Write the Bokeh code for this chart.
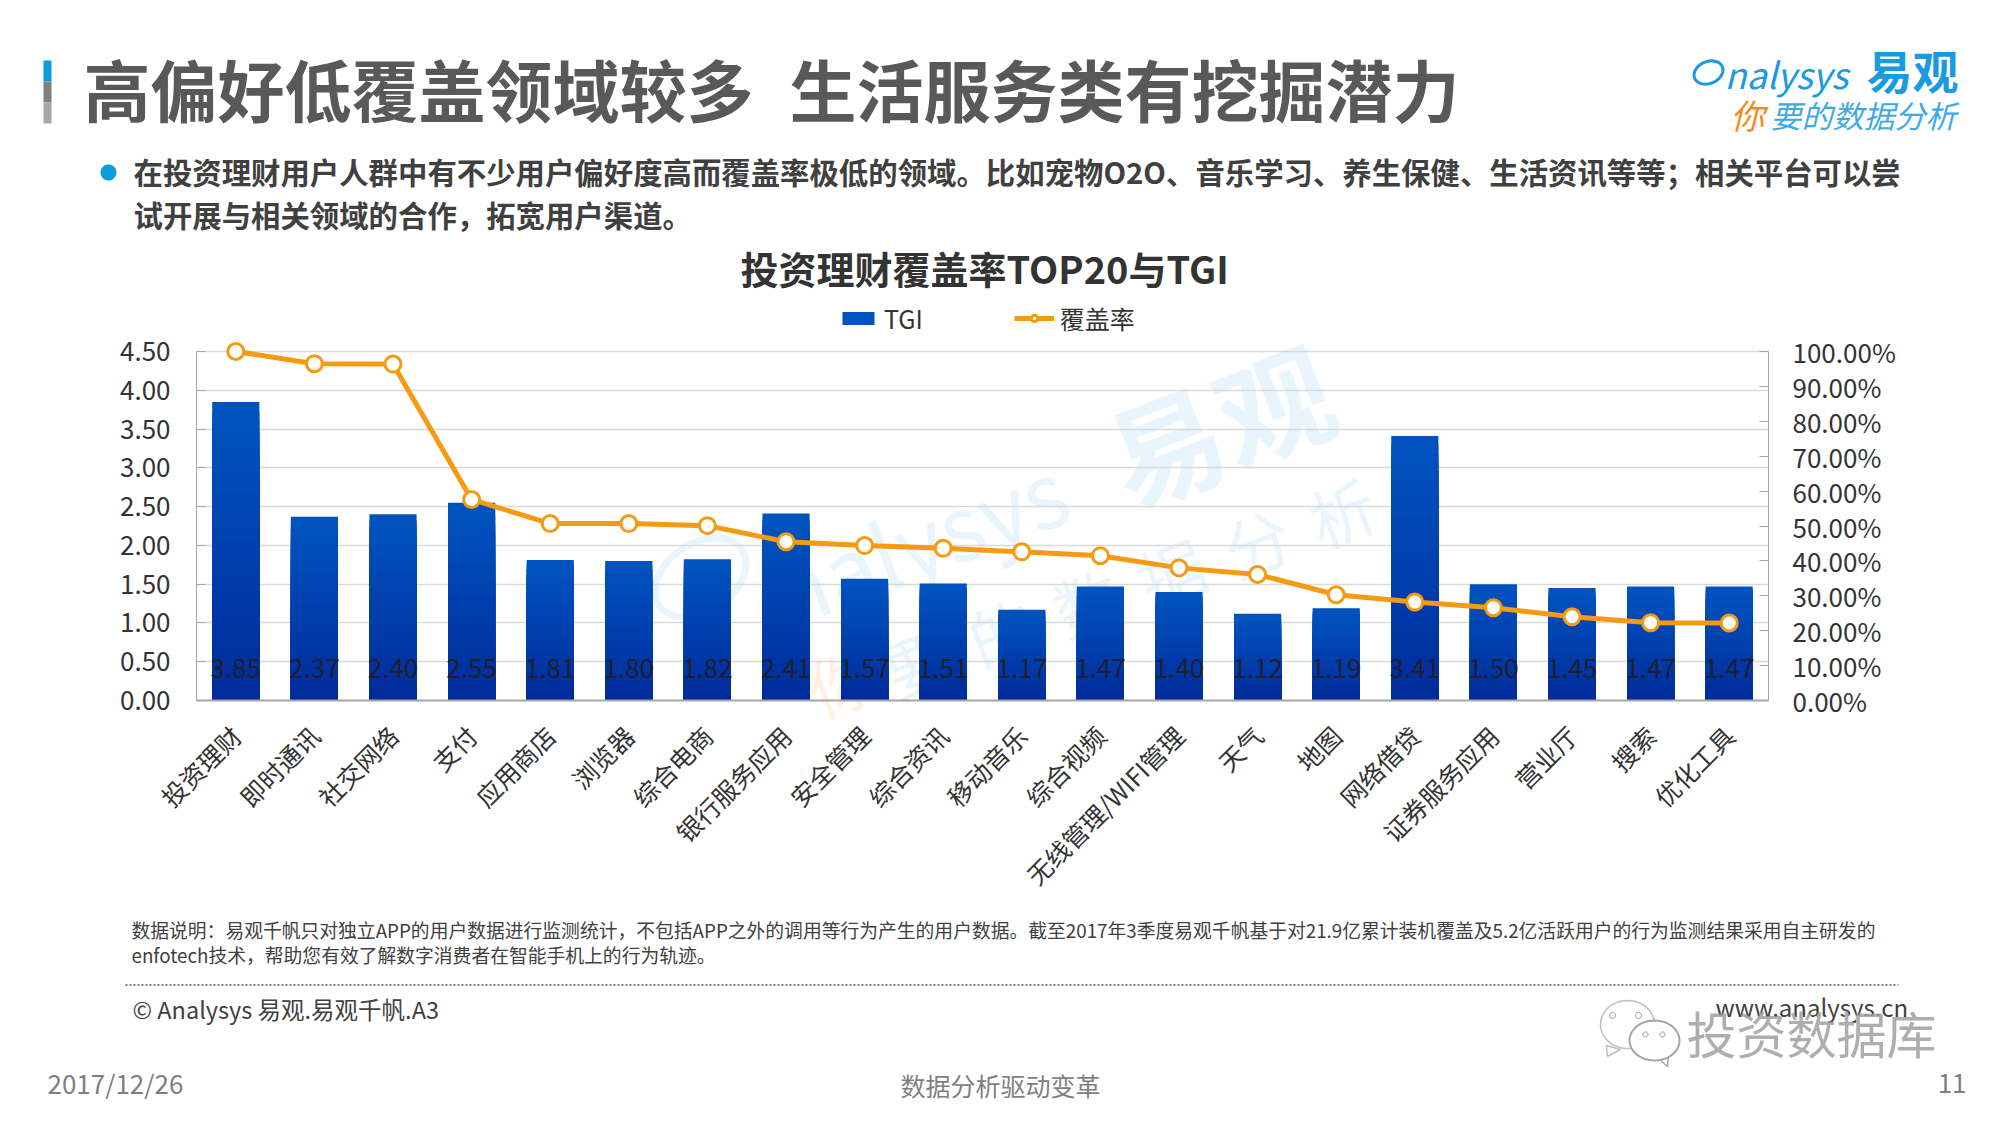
from math import pi, cos, sin, radians
from bokeh.plotting import figure
from bokeh.embed import file_html
from bokeh.layouts import column
from bokeh.resources import INLINE
from bokeh.core.properties import value
from bokeh.models import (ColumnDataSource, Range1d, LinearAxis, FixedTicker, PrintfTickFormatter,
                          Label, BoxAnnotation, PolyAnnotation, Legend, LegendItem)

categories = ["投资理财", "即时通讯", "社交网络", "支付", "应用商店", "浏览器", "综合电商", "银行服务应用",
              "安全管理", "综合资讯", "移动音乐", "综合视频", "无线管理/WIFI管理", "天气", "地图", "网络借贷",
              "证券服务应用", "营业厅", "搜索", "优化工具"]
tgi = [3.85, 2.37, 2.40, 2.55, 1.81, 1.80, 1.82, 2.41, 1.57, 1.51, 1.17, 1.47, 1.40, 1.12, 1.19, 3.41, 1.50, 1.45, 1.47, 1.47]
coverage = [100.0, 96.5, 96.4, 57.6, 50.7, 50.7, 50.1, 45.5, 44.4, 43.6, 42.6, 41.5, 38.0, 36.1, 30.3, 28.2, 26.6, 24.0, 22.3, 22.2]
left_ticks = [0, 0.5, 1, 1.5, 2, 2.5, 3, 3.5, 4, 4.5]
right_ticks = [0, 10, 20, 30, 40, 50, 60, 70, 80, 90, 100]

title_left = "高偏好低覆盖领域较多"
title_right = "生活服务类有挖掘潜力"
body_1 = "在投资理财用户人群中有不少用户偏好度高而覆盖率极低的领域。比如宠物O2O、音乐学习、养生保健、生活资讯等等；相关平台可以尝"
body_2 = "试开展与相关领域的合作，拓宽用户渠道。"
chart_title = "投资理财覆盖率TOP20与TGI"
note_1 = "数据说明：易观千帆只对独立APP的用户数据进行监测统计，不包括APP之外的调用等行为产生的用户数据。截至2017年3季度易观千帆基于对21.9亿累计装机覆盖及5.2亿活跃用户的行为监测结果采用自主研发的"
note_2 = "enfotech技术，帮助您有效了解数字消费者在智能手机上的行为轨迹。"

CJK = "Noto Sans CJK SC"
W, H = 1990, 1115
# plot frame in page pixels; it reaches above the 4.50 line so that the first marker and the legend fit inside it
FL, FR, FT, FB, AXT = 196, 1768, 295, 700, 351
stretch = (FB - FT) / (FB - AXT)

# ---------- page layer: everything outside the plot, drawn in page pixels ----------
bg = figure(width=W, height=H, output_backend="svg", toolbar_location=None, x_range=Range1d(0, W),
            y_range=Range1d(H, 0), x_axis_type=None, y_axis_type=None, min_border=0, frame_align=False)
bg.grid.visible = False
bg.outline_line_color = None


def text(s, x, y, size, color="#333333", bold=False, align="left", angle=0, alpha=1.0, italic=False):
    style = "bold" if bold else ("italic" if italic else "normal")
    bg.add_layout(Label(x=x, y=y, text=s, text_font=CJK, text_font_size="%gpx" % size, text_color=color,
                        text_font_style=style, text_align=align, text_baseline="middle", angle=angle, text_alpha=alpha))


def box(l, r, t, b, color):
    bg.add_layout(BoxAnnotation(left=l, right=r, top=t, bottom=b, fill_color=color, fill_alpha=1, line_color=None))


def poly(xs, ys, fill, stroke, lw=1.5, alpha=1.0):
    bg.add_layout(PolyAnnotation(xs=xs, ys=ys, fill_color=fill or "white", fill_alpha=alpha if fill else 0,
                                 line_color=stroke or "white", line_width=lw, line_alpha=alpha if stroke else 0))


def oval(cx, cy, rx, ry, fill, stroke, lw=1.5, tilt=0.0, a0=0, a1=360, alpha=1.0):
    n = 48
    xs, ys = [], []
    for k in range(n + 1):
        a = radians(a0 + (a1 - a0) * k / n)
        x, y = rx * cos(a), ry * sin(a)
        xs.append(cx + x * cos(tilt) - y * sin(tilt))
        ys.append(cy + x * sin(tilt) + y * cos(tilt))
    poly(xs, ys, fill, stroke, lw, alpha)


box(43, 51, 60, 81, "#0F9BE0")
box(43, 51, 81, 102, "#7F7F7F")
box(43, 51, 102, 123, "#A6A6A6")
text(title_left, 83, 87, 67, "#595959", bold=True)
text(title_right, 789, 87, 67, "#595959", bold=True)
oval(108, 172, 8, 8, "#0F9BE0", None)
text(body_1, 133, 170, 29.4, "#404040", bold=True)
text(body_2, 133, 213, 29.4, "#404040", bold=True)
text(chart_title, 740, 267, 38, "#333333", bold=True)

# logo
text("nalysys", 1724, 72, 36, "#1A9AE0", italic=True)
oval(1708, 72, 15, 11, None, "#1A9AE0", lw=3, tilt=-0.4, a0=-60, a1=330)
text("易观", 1866, 68, 46, "#1A9AE0", bold=True)
text("你", 1730, 114, 34, "#F58A1F", italic=True)
text("要的数据分析", 1770, 114, 31, "#3FA9E4", italic=True)

# watermark
WM = radians(21)
text("易观", 1218, 421, 115, "#1A9AE0", bold=True, align="center", angle=WM, alpha=0.10)
text("nalysys", 917, 538, 90, "#1A9AE0", align="center", angle=WM, alpha=0.10)
oval(700, 577, 50, 34, None, "#1A9AE0", lw=7, tilt=-0.6, alpha=0.10)
text("你", 840, 680, 66, "#F58A1F", align="center", angle=WM, alpha=0.12)
for k, ch in enumerate("要的数据分析"):
    text(ch, 916 + 85 * k, 660 - 30 * k, 66, "#1A9AE0", align="center", angle=WM, alpha=0.10)

# notes and footer
text(note_1, 131, 929, 18.8, "#404040")
text(note_2, 131, 954, 18.8, "#404040")
bg.add_layout(PolyAnnotation(xs=[125, 1898], ys=[984.5, 984.5], fill_alpha=0, line_color="#595959", line_alpha=1,
                             line_width=1.5, line_dash="2 2"))
text("© Analysys 易观.易观千帆.A3", 132, 1008, 23.5, "#404040")
text("www.analysys.cn", 1715, 1006, 24, "#404040")
text("2017/12/26", 47, 1082, 26, "#7F7F7F")
text("数据分析驱动变革", 1000, 1084, 25, "#7F7F7F", align="center")
text("11", 1966, 1083, 26, "#7F7F7F", align="right")

# WeChat mark and name
poly([1606, 1607, 1620], [1045, 1056, 1049], "white", "#BFBFBF")
oval(1627, 1024, 27, 24, "white", "#BFBFBF", lw=1.5)
poly([1658, 1667, 1668], [1058, 1066, 1055], "white", "#A6A6A6")
oval(1654, 1040, 25, 20, "white", "#A6A6A6", lw=2)
for ex, ey, er in [(1612, 1015, 3), (1638, 1015, 3), (1645, 1034, 2.5), (1662, 1034, 2.5)]:
    oval(ex, ey, er, er, "white", "#8C8C8C", lw=1)
text("投资数据库", 1686, 1033, 50, "#FFFFFF")
text("投资数据库", 1686, 1031, 50, "#9A9A9A", alpha=0.8)

# ---------- chart layer, transparent, laid over the page layer ----------
p = figure(width=W, height=H, output_backend="svg", toolbar_location=None,
           x_range=categories, y_range=Range1d(0, 4.5 * stretch), frame_align=False,
           min_border_left=FL, min_border_right=W - FR, min_border_top=FT, min_border_bottom=H - FB,
           styles={"position": "absolute", "left": "0px", "top": "0px"})
p.outline_line_color = None
p.background_fill_alpha = 0
p.border_fill_alpha = 0
p.extra_y_ranges["pct"] = Range1d(0, 100 * stretch)

# bars: a base colour with nested shorter bars on top to shade each bar from top to bottom
top_rgb, bot_rgb = (0, 84, 192), (0, 42, 154)
N = 30
src = ColumnDataSource(dict(cat=categories, tgi=tgi, cov=coverage, lab=["%.2f" % v for v in tgi]))
bars = p.vbar(x="cat", top="tgi", width=0.6, source=src, color="#0052BE", line_color=None)
for i in range(1, N):
    t = i / N
    col = "#%02x%02x%02x" % tuple(int(round(a + (b - a) * t)) for a, b in zip(top_rgb, bot_rgb))
    p.vbar(x=categories, top=[v * (1 - t) for v in tgi], width=0.6, color=col, line_color=None)

line = p.line(x="cat", y="cov", source=src, y_range_name="pct", line_color="#F59A12", line_width=5)
pts = p.scatter(x="cat", y="cov", source=src, y_range_name="pct", size=16, fill_color="white",
                line_color="#F59A12", line_width=3)
p.text(x="cat", y=0, text="lab", source=src, y_offset=-32, text_align="center", text_baseline="middle",
       text_font=value(CJK), text_font_size="26px", text_color="#1f1f2e")

ax = p.yaxis[0]
ax.ticker = FixedTicker(ticks=left_ticks)
ax.bounds = (0, 4.5)
ax.formatter = PrintfTickFormatter(format="%.2f")
ax.major_tick_in, ax.major_tick_out, ax.minor_tick_line_color = 9, 0, None
ax.axis_line_color = "#A6A6A6"
ax.major_tick_line_color = "#A6A6A6"
ax.major_label_text_font = CJK
ax.major_label_text_font_size = "26px"
ax.major_label_text_color = "#333333"
ax.major_label_standoff = 26

rax = LinearAxis(y_range_name="pct", ticker=FixedTicker(ticks=right_ticks), bounds=(0, 100),
                 formatter=PrintfTickFormatter(format="%.2f%%"))
rax.major_tick_in, rax.major_tick_out, rax.minor_tick_line_color = 9, 0, None
rax.axis_line_color = "#A6A6A6"
rax.major_tick_line_color = "#A6A6A6"
rax.major_label_text_font = CJK
rax.major_label_text_font_size = "26px"
rax.major_label_text_color = "#333333"
rax.major_label_standoff = 24
p.add_layout(rax, "right")

xa = p.xaxis[0]
xa.major_label_orientation = pi / 4
xa.major_tick_line_color = None
xa.axis_line_color = "#A6A6A6"
xa.axis_line_width = 2
xa.major_label_text_font = CJK
xa.major_label_text_font_size = "25px"
xa.major_label_text_color = "#333333"
xa.major_label_standoff = 24

p.xgrid.grid_line_color = None
p.ygrid.ticker = FixedTicker(ticks=left_ticks)
p.ygrid.bounds = (0, 4.5)
p.ygrid.grid_line_color = "#D9D9D9"
p.ygrid.grid_line_width = 1.5

lg = Legend(items=[LegendItem(label="TGI", renderers=[bars]), LegendItem(label="覆盖率", renderers=[line, pts])],
            orientation="horizontal", location=(642, 364), border_line_color=None, background_fill_alpha=0,
            label_text_font=CJK, label_text_font_size="25px", label_text_color="#333333",
            glyph_width=40, glyph_height=16, spacing=91, padding=0, margin=0, label_standoff=6)
p.add_layout(lg, "center")

root = column(bg, p, width=W, height=H)
open("out.html", "w").write(file_html(root, INLINE))
